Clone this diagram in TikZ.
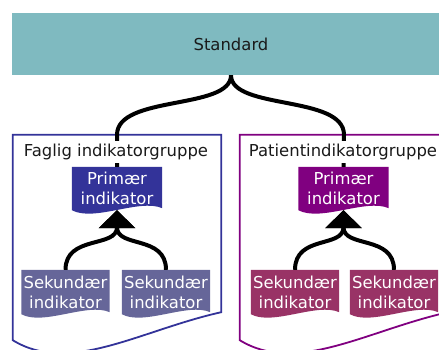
\documentclass[tikz,border=0pt]{standalone}
\usepackage{fontspec}
\setmainfont{DejaVu Sans}
\usetikzlibrary{arrows.meta,backgrounds,calc}
\definecolor{stdfill}{HTML}{7FBAC0}
\definecolor{blueA}{HTML}{333399}
\definecolor{blueB}{HTML}{666699}
\definecolor{purpA}{HTML}{800080}
\definecolor{purpB}{HTML}{993366}
\definecolor{txt}{HTML}{1A1A1A}
\newcommand\docfill[2]{%
  \fill[#2] (#1.north west) -- (#1.north east) -- ([yshift=2bp]#1.south east)
    .. controls ($(#1.south east)!0.5!(#1.south)+(0,-12)$) and ($(#1.south west)!0.5!(#1.south)+(0,12)$) .. (#1.south west) -- cycle;}
\newcommand\grpoutline[2]{%
  \draw[#2, line width=1.8bp] (#1.south east) -- (#1.north east) -- (#1.north west)
    -- ([yshift=-28bp]#1.south west) .. controls +(57,35) and +(-81,18) .. (#1.south east) -- cycle;}
\begin{document}
\begin{tikzpicture}[x=1bp,y=-1bp,
  every node/.style={font=\fontsize{16.5}{20}\selectfont, align=center, inner sep=0pt},
  stdbox/.style={fill=stdfill, text=txt, minimum width=438bp, minimum height=62bp},
  grp/.style={minimum width=208bp, minimum height=177bp},
  prim/.style={text=white, minimum width=90bp, minimum height=43bp},
  sec/.style={text=white, minimum width=88bp, minimum height=44bp},
  title/.style={fill=white, text=txt, inner xsep=1bp, inner ysep=3bp},
  conn/.style={line width=4bp},
  tip/.style={-{Triangle[length=18bp,width=36bp]}}]
\useasboundingbox (0,0) rectangle (439,349);
\clip (0,0) rectangle (439,349);
% standard
\node[stdbox] (std) at (231,44) {Standard};
% groups
\node[grp] (g1) at (117,223.5) {};
\node[grp] (g2) at (344,223.5) {};
\grpoutline{g1}{blueA}
\grpoutline{g2}{purpA}
% primary and secondary
\node[prim] (p1) at (117,188.5) {Primær\\indikator};
\node[prim] (p2) at (343.5,188.5) {Primær\\indikator};
\node[sec] (s1) at (65.5,292) {Sekundær\\indikator};
\node[sec] (s2) at (166,292) {Sekundær\\indikator};
\node[sec] (s3) at (295,292) {Sekundær\\indikator};
\node[sec] (s4) at (394,292) {Sekundær\\indikator};
\begin{scope}[on background layer]
  \docfill{p1}{blueA}
  \docfill{p2}{purpA}
  \docfill{s1}{blueB}
  \docfill{s2}{blueB}
  \docfill{s3}{purpB}
  \docfill{s4}{purpB}
\end{scope}
% brace connectors
\draw[conn] (std.south) .. controls +(0,35) and +(0,-40) .. (g1.north) -- (p1.north);
\draw[conn] (std.south) .. controls +(0,35) and +(0,-40) .. (g2.north) -- (p2.north);
% titles
\node[title] (t1) at (116,152) {Faglig indikatorgruppe};
\node[title] (t2) at (343,152) {Patientindikatorgruppe};
% arrows
\draw[conn,tip] (s1.north) .. controls +(0,-35) and +(0,38) .. (p1.south);
\draw[conn,tip] (s2.north) .. controls +(0,-35) and +(0,38) .. (p1.south);
\draw[conn,tip] (s3.north) .. controls +(0,-35) and +(0,38) .. (p2.south);
\draw[conn,tip] (s4.north) .. controls +(0,-35) and +(0,38) .. (p2.south);
\end{tikzpicture}
\end{document}
